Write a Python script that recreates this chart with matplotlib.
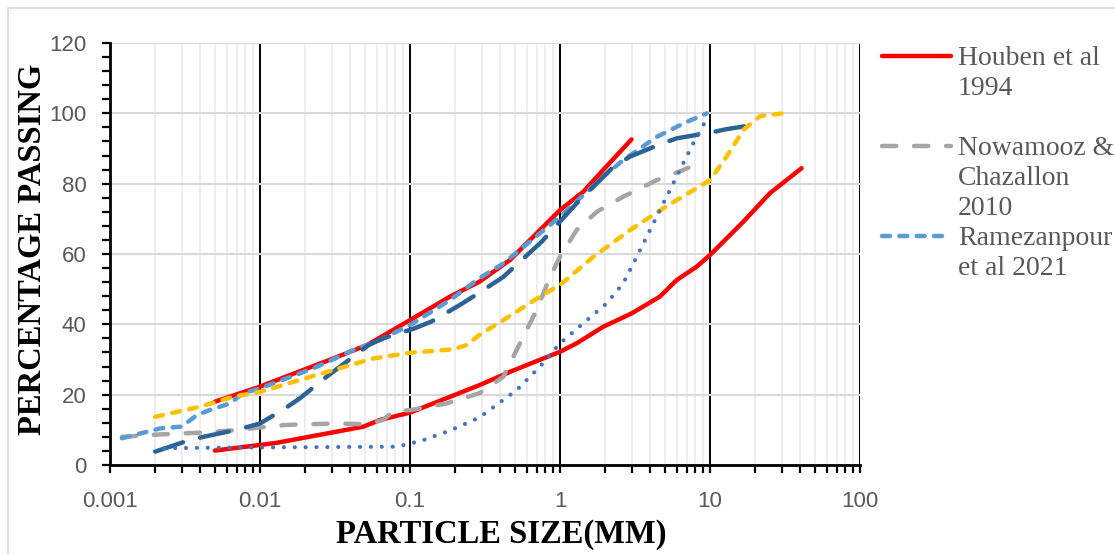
import matplotlib
matplotlib.use("Agg")
import matplotlib.pyplot as plt
from matplotlib.lines import Line2D
from matplotlib.patches import Rectangle
from matplotlib.ticker import FixedLocator, MultipleLocator, NullFormatter

# Houben et al 1994 - upper and lower bounds
houben_hi_x = [0.005, 0.01, 0.0308, 0.0517, 0.1, 0.185, 0.29, 0.464, 1.0, 1.43, 1.94, 3.0]
houben_hi_y = [18, 22.3, 30.3, 34.1, 41.2, 47.9, 52.1, 58.3, 72.5, 77.7, 83.9, 92.6]
houben_lo_x = [0.005, 0.01, 0.0129, 0.0489, 0.063, 0.1, 0.185, 0.29, 0.464, 1.0, 1.29,
               1.94, 3.0, 4.64, 6.0, 8.15, 10, 16.7, 25.1, 40.8]
houben_lo_y = [4.1, 5.7, 6.3, 10.9, 12.8, 14.9, 19.4, 22.7, 26.5, 32.2, 34.6,
               39.3, 43.1, 47.9, 52.6, 56.4, 59.7, 69.2, 77.3, 84.4]

# Nowamooz & Chazallon 2010
nowa_x = [0.0012, 0.00215, 0.004, 0.0074, 0.01, 0.015, 0.0308, 0.0517, 0.066, 0.0774, 0.1,
          0.175, 0.29, 0.419, 0.541, 0.699, 0.858, 1.0, 1.29, 1.76, 2.64, 4.41, 6.64, 8.58]
nowa_y = [8, 8.7, 9.2, 10, 10.7, 11.4, 11.8, 11.6, 12.8, 15.2, 15.6,
          17.5, 20.4, 25.1, 34.6, 44.1, 53.5, 59.2, 66.8, 72, 76.3, 81, 83.9, 86]

# Ramezanpour et al 2021
rame_x = [0.0012, 0.00215, 0.003, 0.0038, 0.0046, 0.0063, 0.0077, 0.01, 0.0227, 0.042, 0.06,
          0.1, 0.185, 0.29, 0.419, 1.0, 1.94, 2.64, 4.41, 6.64, 9.5]
rame_y = [7.6, 10.4, 10.9, 14.2, 15.6, 17.5, 20.4, 21.8, 27.5, 32.7, 35.1,
          39.8, 46.9, 53.1, 57.3, 70.6, 82, 86.7, 93.3, 97.1, 100]

# other (unlabelled) gradations
dark_x = [0.002, 0.0034, 0.0044, 0.007, 0.01, 0.0147, 0.0185, 0.0278, 0.034, 0.053, 0.066,
          0.108, 0.139, 0.215, 0.285, 0.419, 0.755, 1.29, 2.27, 2.93, 4.53, 6.0, 10, 12.9, 19.5]
dark_y = [3.8, 7.1, 8.2, 10, 11.8, 16.1, 19, 25.1, 27.9, 34.1, 36,
          38.9, 40.8, 45.5, 48.8, 53.5, 63.5, 74.4, 84.8, 87.7, 91, 92.9, 94.5, 95.5, 96.7]

yell_x = [0.002, 0.004, 0.0066, 0.01, 0.0185, 0.0308, 0.057, 0.1, 0.194, 0.239, 0.29,
          0.419, 0.736, 1.0, 1.67, 2.93, 4.89, 10, 12.9, 16.7, 21.5, 30.8]
yell_y = [13.7, 16.6, 19.4, 20.8, 24.2, 27, 30.3, 31.9, 32.9, 34.1, 37,
          41.2, 47.9, 51.2, 59.2, 66.8, 73, 81, 87.7, 95.3, 99.2, 100]

dot_x = [0.0023, 0.01, 0.077, 0.0926, 0.123, 0.185, 0.29, 0.514, 0.736, 1.0, 1.43,
         2.05, 2.64, 3.25, 3.98, 5.14, 6.3, 7.74, 9.5]
dot_y = [4.8, 5, 5.2, 5.7, 7.1, 9.8, 13.5, 21.3, 28, 34.6, 40.3,
         46, 51.7, 59.2, 66.8, 76.3, 83.9, 91.5, 98.4]

x_ticks = [0.001, 0.01, 0.1, 1, 10, 100]
x_labels = ["0.001", "0.01", "0.1", "1", "10", "100"]

legend_labels = ["Houben et al\n1994", "Nowamooz &\nChazallon\n2010", "Ramezanpour\net al 2021"]

RED, GRAY, LBLUE = "#FF0000", "#A5A5A5", "#5B9BD5"
DBLUE, YELLOW, DOTBLUE = "#2B6396", "#FFC000", "#4472C4"
TXT = "#595959"
LW = 3.2

W, H = 1115, 555
fig = plt.figure(figsize=(W / 100, H / 100), dpi=100)
fig.patches.append(Rectangle((8 / W, -0.1), 1.2, (H - 8) / H + 0.1, transform=fig.transFigure,
                             fill=False, edgecolor="#D9D9D9", lw=1.2))
ax = fig.add_axes([110 / W, 1 - 465 / H, 750 / W, 422 / H])

styles = {
    "red": dict(color=RED, lw=LW, solid_capstyle="round"),
    "gray": dict(color=GRAY, lw=LW, dashes=(3.2, 4.0), dash_capstyle="round"),
    "lblue": dict(color=LBLUE, lw=LW, dashes=(1.8, 2.1), dash_capstyle="round"),
    "dark": dict(color=DBLUE, lw=LW, dashes=(6.6, 4.0), dash_capstyle="round"),
    "yellow": dict(color=YELLOW, lw=LW, dashes=(1.8, 2.1), dash_capstyle="round"),
    "dot": dict(color=DOTBLUE, lw=3.0, dashes=(0.01, 2.6), dash_capstyle="round"),
}

ax.plot(houben_hi_x, houben_hi_y, **styles["red"], zorder=3)
ax.plot(houben_lo_x, houben_lo_y, **styles["red"], zorder=3)
ax.plot(nowa_x, nowa_y, **styles["gray"], zorder=3)
ax.plot(rame_x, rame_y, **styles["lblue"], zorder=3)
ax.plot(dark_x, dark_y, **styles["dark"], zorder=3)
ax.plot(yell_x, yell_y, **styles["yellow"], zorder=3)
ax.plot(dot_x, dot_y, **styles["dot"], zorder=3)

ax.set_xscale("log")
ax.set_xlim(0.001, 100)
ax.set_ylim(0, 120)

ax.xaxis.set_major_locator(FixedLocator(x_ticks))
ax.set_xticklabels(x_labels)
minors = [m * 10.0 ** e for e in range(-3, 2) for m in range(2, 10)]
ax.xaxis.set_minor_locator(FixedLocator(minors))
ax.xaxis.set_minor_formatter(NullFormatter())
ax.yaxis.set_major_locator(MultipleLocator(20))
ax.yaxis.set_minor_locator(MultipleLocator(4))

ax.grid(True, which="minor", axis="x", color="#EBEBEB", lw=1.2, zorder=0)
ax.grid(True, which="major", axis="x", color="black", lw=1.4, zorder=1)
ax.grid(True, which="major", axis="y", color="#D9D9D9", lw=1.5, zorder=0)
ax.set_axisbelow(True)

for s in ["top", "right"]:
    ax.spines[s].set_visible(False)
for s in ["left", "bottom"]:
    ax.spines[s].set_linewidth(2)
    ax.spines[s].set_zorder(4)

ax.tick_params(which="both", direction="out", length=6, width=1.6, color="black")
ax.tick_params(axis="x", which="major", pad=13, labelsize=16, labelcolor=TXT)
ax.tick_params(axis="y", which="major", pad=11, labelsize=16, labelcolor=TXT)
for lab in ax.get_xticklabels() + ax.get_yticklabels():
    lab.set_family("Liberation Sans")

fig.text(501 / W, 1 - 534 / H, "PARTICLE SIZE(MM)", ha="center", va="center",
         family="Liberation Serif", weight="bold", size=23.5, color="black")
fig.text(33 / W, 1 - 249 / H, "PERCENTAGE PASSING", ha="center", va="center", rotation=90,
         family="Liberation Serif", weight="bold", size=23.5, color="black")

# legend, drawn by hand so the handle sits beside the first text line
leg_styles = [styles["red"], styles["gray"], styles["lblue"]]
handle_y = [55.5, 145.5, 235.5]
for lbl, st, hy in zip(legend_labels, leg_styles, handle_y):
    fig.add_artist(Line2D([882 / W, 951 / W], [1 - hy / H, 1 - hy / H],
                          transform=fig.transFigure, **st))
    for i, line in enumerate(lbl.split("\n")):
        fig.text(958 / W, 1 - (hy + 9.5 + 30 * i) / H, line, ha="left", va="baseline",
                 family="Liberation Serif", size=20, color=TXT)

fig.savefig("out.png", dpi=100)
